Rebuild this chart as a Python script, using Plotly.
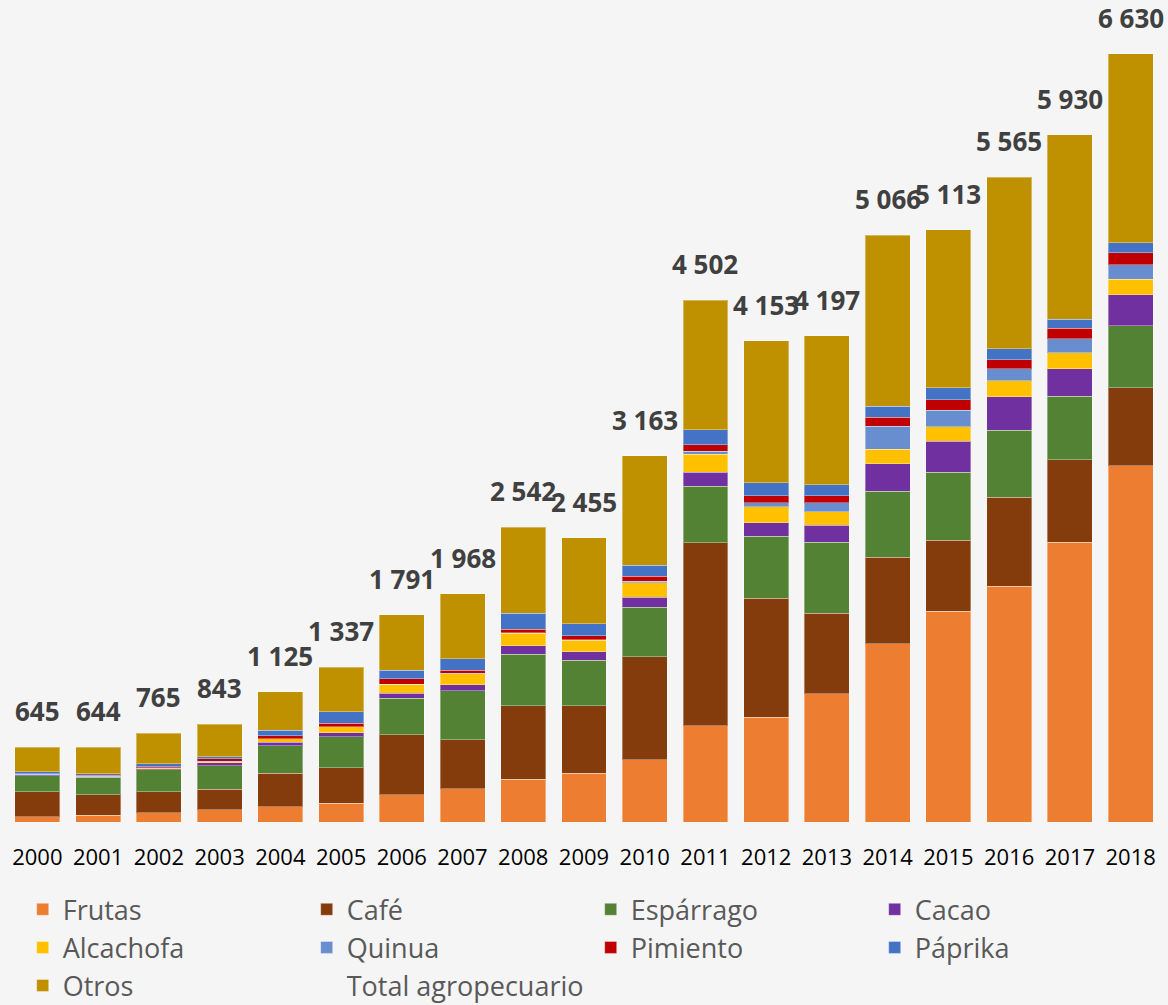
import plotly.graph_objects as go

years = [str(y) for y in range(2000, 2019)]

frutas    = [46, 60, 78, 104, 130, 164, 236, 285, 371, 420, 538, 829, 906, 1105, 1537, 1821, 2037, 2415, 3073]
cafe      = [216, 175, 184, 179, 291, 305, 515, 423, 633, 584, 889, 1582, 1025, 697, 748, 613, 766, 713, 676]
esparrago = [138, 150, 187, 204, 236, 268, 317, 423, 444, 392, 426, 489, 535, 613, 570, 584, 578, 547, 533]
cacao     = [8, 8, 10, 23, 32, 32, 43, 52, 74, 74, 89, 118, 115, 147, 236, 268, 290, 236, 268]
alcachofa = [2, 4, 8, 12, 28, 52, 78, 98, 107, 98, 121, 158, 141, 115, 127, 126, 136, 141, 136]
quinua    = [2, 2, 3, 3, 2, 2, 2, 3, 5, 7, 13, 25, 35, 78, 199, 144, 104, 121, 123]
pimiento  = [4, 4, 8, 20, 26, 29, 46, 26, 31, 31, 46, 54, 60, 63, 78, 89, 80, 90, 104]
paprika   = [16, 13, 25, 20, 49, 98, 75, 98, 138, 107, 95, 129, 112, 95, 92, 104, 92, 78, 86]
otros     = [213, 228, 262, 278, 331, 387, 479, 560, 739, 742, 946, 1118, 1224, 1284, 1479, 1364, 1482, 1589, 1631]
totals    = [645, 644, 765, 843, 1125, 1337, 1791, 1968, 2542, 2455, 3163, 4502, 4153, 4197, 5066, 5113, 5565, 5930, 6630]

series = [
    ("Frutas", frutas, "#ED7D31"),
    ("Café", cafe, "#843C0C"),
    ("Espárrago", esparrago, "#548235"),
    ("Cacao", cacao, "#7030A0"),
    ("Alcachofa", alcachofa, "#FFC000"),
    ("Quinua", quinua, "#698ED0"),
    ("Pimiento", pimiento, "#C00000"),
    ("Páprika", paprika, "#4472C4"),
    ("Otros", otros, "#BF9000"),
]

fig = go.Figure()
for name, vals, col in series:
    fig.add_trace(go.Bar(
        x=years, y=vals, name=name,
        marker=dict(color=col, line=dict(color="rgba(255,255,255,0.35)", width=1)),
    ))

fig.add_trace(go.Scatter(
    x=years, y=totals, name="Total agropecuario", mode="lines",
    line=dict(color="rgba(0,0,0,0)", width=2), hoverinfo="skip",
))

def fmt(v):
    return f"{v:,}".replace(",", " ")

for i, t in enumerate(totals):
    fig.add_annotation(
        x=i, y=t, xref="x", yref="y", text=fmt(t), showarrow=False, yanchor="bottom",
        yshift=16, font=dict(family="Open Sans", size=26, color="#404040", weight="bold"),
    )

fig.update_layout(
    width=1168, height=1005,
    barmode="stack", bargap=0.26,
    paper_bgcolor="#F5F5F5", plot_bgcolor="#F5F5F5",
    margin=dict(l=7, r=7, t=11, b=183, autoexpand=False),
    font=dict(family="Open Sans", color="#595959"),
    xaxis=dict(type="category", range=[-0.5, 18.5], showgrid=False, showline=False, ticks="",
               tickfont=dict(size=22, color="#000000"), ticklabelstandoff=20),
    yaxis=dict(visible=False, range=[0, 7000], showgrid=False),
    legend=dict(
        orientation="h", traceorder="normal",
        x=0.0136, xanchor="left", y=-0.078, yanchor="top",
        entrywidth=239, entrywidthmode="pixels",
        font=dict(size=27, color="#595959"),
        bgcolor="rgba(0,0,0,0)",
    ),
    showlegend=True,
)

fig.write_html("out.html",
               config={"displayModeBar": False},
               post_script="document.body.style.margin='0';document.body.style.background='#F5F5F5';")
